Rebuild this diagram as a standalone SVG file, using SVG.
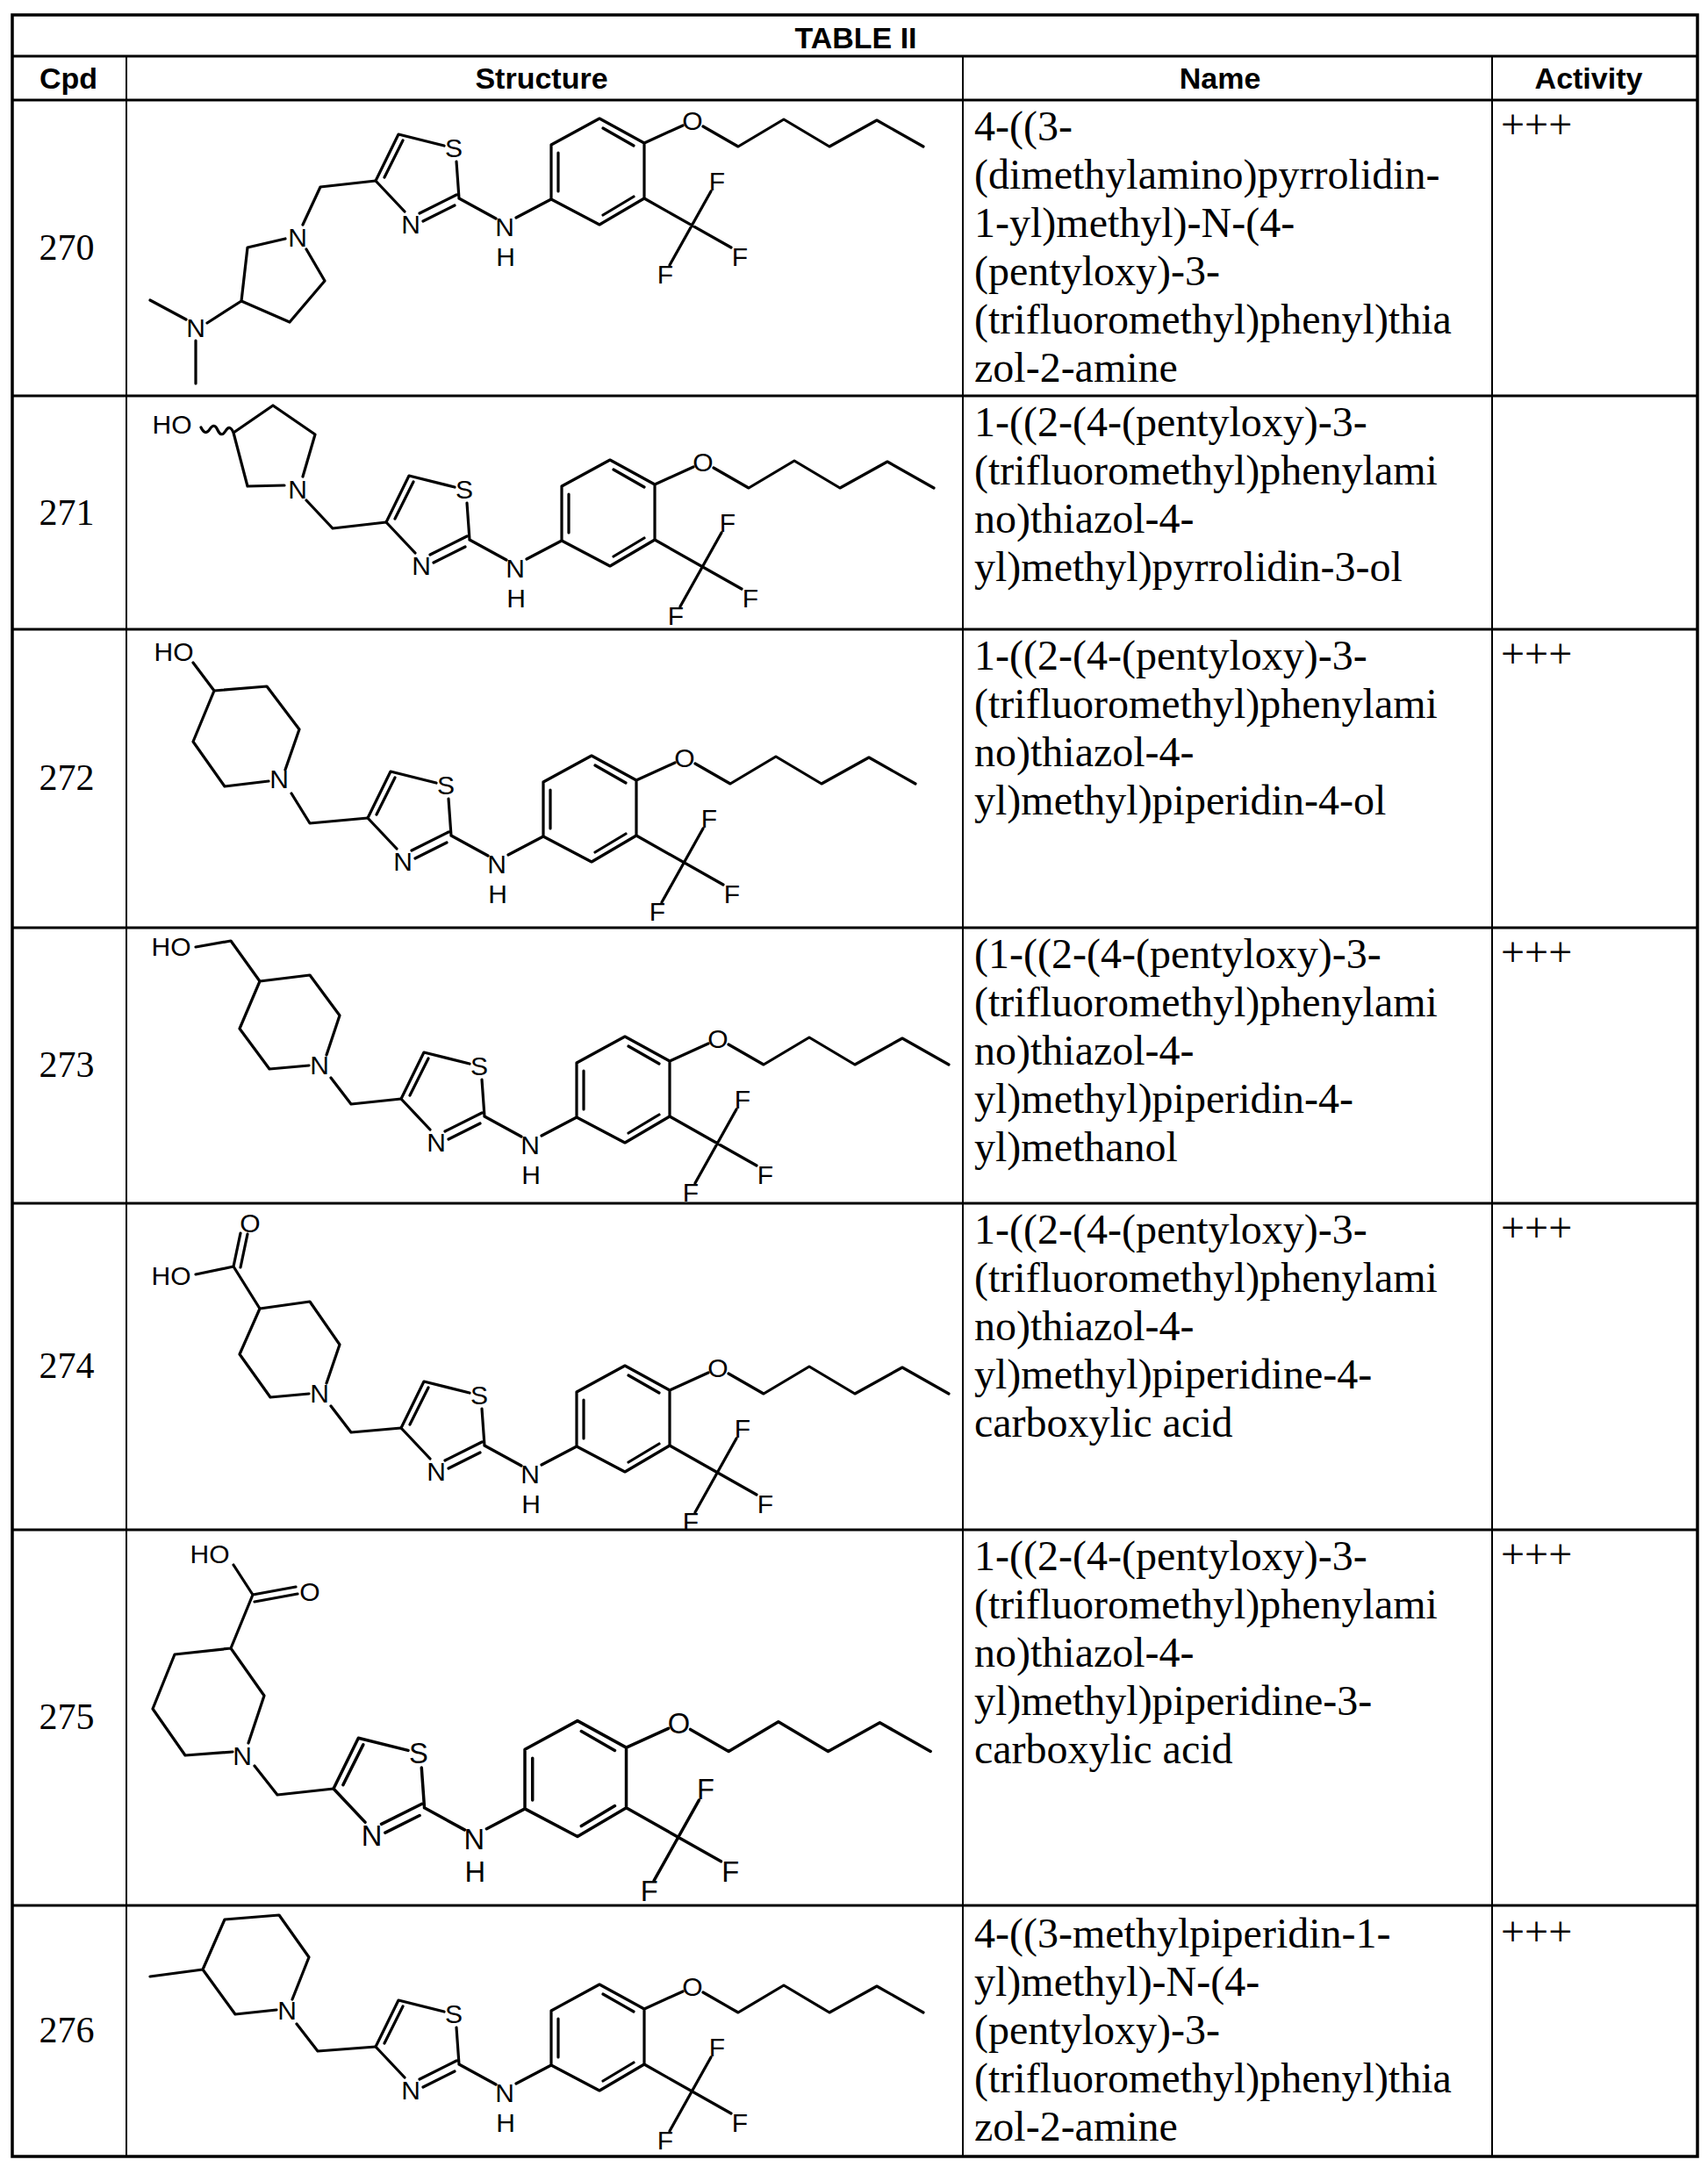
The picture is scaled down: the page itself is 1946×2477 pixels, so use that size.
<svg xmlns="http://www.w3.org/2000/svg" width="1946" height="2477" viewBox="0 0 1946 2477">
<style>
.b{stroke:#000;stroke-width:3.2;fill:none;stroke-linecap:round;stroke-linejoin:round}
.g{stroke:#000;fill:none}
.a{font-family:"Liberation Sans",Arial,sans-serif;font-size:30px;text-anchor:middle;fill:#000}
.h{font-family:"Liberation Sans",Arial,sans-serif;font-size:34px;font-weight:bold;text-anchor:middle;fill:#000}
.n{font-family:"Liberation Serif","Times New Roman",serif;font-size:48px;fill:#000}
.c{font-family:"Liberation Serif","Times New Roman",serif;font-size:42px;text-anchor:middle;fill:#000}
</style>
<defs>
<g id="core">
<path class="b" d="M0,0 L26,-53 L78,-40 M10,-4 L31,-46 M92,-22 L95,20 M50,37 L92,16 M54,46 L90,28 M0,0 L33,35 M95,20 L137,43 M160,42 L200,21 M200,21 L200,-41 L255,-71 L306,-43 L306,20 L255,50 Z M208,12 L208,-32 M259,-60 L294,-40 M294,18 L259,39 M306,-43 L350,-63 M373,-62 L413,-39 L465,-70 L517,-39 L571,-69 L624,-39 M306,20 L405,76 M382,12 L335,96"/>
<text class="a" x="89" y="-27">S</text>
<text class="a" x="40" y="60">N</text>
<text class="a" x="147" y="63">N</text>
<text class="a" x="148" y="97">H</text>
<text class="a" x="361" y="-58">O</text>
<text class="a" x="389" y="11">F</text>
<text class="a" x="415" y="97">F</text>
<text class="a" x="330" y="117">F</text>
</g>
</defs>
<rect width="1946" height="2477" fill="#fff"/>
<g id="table">
<rect class="g" x="14" y="17" width="1920" height="2440" stroke-width="3.5"/>
<path class="g" stroke-width="3" d="M14,64 H1934 M14,114 H1934 M14,451 H1934 M14,717 H1934 M14,1057 H1934 M14,1371 H1934 M14,1743 H1934 M14,2171 H1934"/>
<path class="g" stroke-width="2" d="M144,64 V2457 M1097,64 V2457 M1700,64 V2457"/>
<text class="h" x="975" y="55">TABLE II</text>
<text class="h" x="78" y="101">Cpd</text>
<text class="h" x="617" y="101">Structure</text>
<text class="h" x="1390" y="101">Name</text>
<text class="h" x="1810" y="101">Activity</text>
</g>
<g id="r270">
<text class="c" x="76" y="296">270</text>
<use href="#core" transform="translate(428,206)"/>
<path class="b" d="M428,206 L365,213 L345,256 M325,272 L282,282 L275,343 L330,367 L370,320 L349,284 M275,343 L236,368 M212,364 L171,342 M223,388 L223,437"/>
<text class="a" x="339" y="281">N</text>
<text class="a" x="223" y="384">N</text>
<text class="n" x="1110" y="160">4-((3-</text>
<text class="n" x="1110" y="215">(dimethylamino)pyrrolidin-</text>
<text class="n" x="1110" y="270">1-yl)methyl)-N-(4-</text>
<text class="n" x="1110" y="325">(pentyloxy)-3-</text>
<text class="n" x="1110" y="380">(trifluoromethyl)phenyl)thia</text>
<text class="n" x="1110" y="435">zol-2-amine</text>
<text class="n" x="1710" y="158">+++</text>
</g>
<g id="r271">
<text class="c" x="76" y="598">271</text>
<use href="#core" transform="translate(440,595)"/>
<path class="b" d="M440,595 L379,602 L349,570 M324,553 L282,554 L266,493 L311,462 L359,495 L345,543 M266,493 q-4,-10 -9,-2 q-5,8 -9,-1 q-4,-9 -9,-1 q-5,8 -10,-2"/>
<text class="a" x="339" y="568">N</text>
<text class="a" x="196" y="494">HO</text>
<text class="n" x="1110" y="497">1-((2-(4-(pentyloxy)-3-</text>
<text class="n" x="1110" y="552">(trifluoromethyl)phenylami</text>
<text class="n" x="1110" y="607">no)thiazol-4-</text>
<text class="n" x="1110" y="662">yl)methyl)pyrrolidin-3-ol</text>
</g>
<g id="r272">
<text class="c" x="76" y="900">272</text>
<use href="#core" transform="translate(419,932)"/>
<path class="b" d="M419,932 L353,938 L332,904 M306,890 L256,896 L220,845 L244,787 L304,782 L341,831 L325,877 M244,787 L220,755"/>
<text class="a" x="318" y="898">N</text>
<text class="a" x="198" y="753">HO</text>
<text class="n" x="1110" y="763">1-((2-(4-(pentyloxy)-3-</text>
<text class="n" x="1110" y="818">(trifluoromethyl)phenylami</text>
<text class="n" x="1110" y="873">no)thiazol-4-</text>
<text class="n" x="1110" y="928">yl)methyl)piperidin-4-ol</text>
<text class="n" x="1710" y="761">+++</text>
</g>
<g id="r273">
<text class="c" x="76" y="1227">273</text>
<use href="#core" transform="translate(457,1252)"/>
<path class="b" d="M457,1252 L400,1258 L377,1228 M352,1214 L307,1218 L273,1172 L296,1118 L353,1111 L387,1157 L372,1202 M296,1118 L263,1072 L223,1079"/>
<text class="a" x="364" y="1224">N</text>
<text class="a" x="195" y="1089">HO</text>
<text class="n" x="1110" y="1103">(1-((2-(4-(pentyloxy)-3-</text>
<text class="n" x="1110" y="1158">(trifluoromethyl)phenylami</text>
<text class="n" x="1110" y="1213">no)thiazol-4-</text>
<text class="n" x="1110" y="1268">yl)methyl)piperidin-4-</text>
<text class="n" x="1110" y="1323">yl)methanol</text>
<text class="n" x="1710" y="1101">+++</text>
</g>
<g id="r274">
<text class="c" x="76" y="1570">274</text>
<use href="#core" transform="translate(457,1627)"/>
<path class="b" d="M457,1627 L400,1632 L377,1602 M352,1588 L308,1592 L273,1543 L296,1491 L353,1483 L387,1532 L372,1576 M296,1491 L266,1443 L223,1452 M266,1443 L274,1405 M274,1444 L282,1406"/>
<text class="a" x="364" y="1598">N</text>
<text class="a" x="195" y="1464">HO</text>
<text class="a" x="285" y="1404">O</text>
<text class="n" x="1110" y="1417">1-((2-(4-(pentyloxy)-3-</text>
<text class="n" x="1110" y="1472">(trifluoromethyl)phenylami</text>
<text class="n" x="1110" y="1527">no)thiazol-4-</text>
<text class="n" x="1110" y="1582">yl)methyl)piperidine-4-</text>
<text class="n" x="1110" y="1637">carboxylic acid</text>
<text class="n" x="1710" y="1415">+++</text>
</g>
<g id="r275">
<text class="c" x="76" y="1970">275</text>
<use href="#core" transform="translate(380,2038) scale(1.09)"/>
<path class="b" d="M380,2038 L316,2045 L290,2012 M265,1996 L211,2000 L174,1947 L199,1885 L263,1878 L301,1932 L283,1986 M263,1878 L288,1817 L266,1783 M288,1817 L337,1808 M290,1825 L339,1816"/>
<text class="a" x="276" y="2011">N</text>
<text class="a" x="239" y="1781">HO</text>
<text class="a" x="353" y="1824">O</text>
<text class="n" x="1110" y="1789">1-((2-(4-(pentyloxy)-3-</text>
<text class="n" x="1110" y="1844">(trifluoromethyl)phenylami</text>
<text class="n" x="1110" y="1899">no)thiazol-4-</text>
<text class="n" x="1110" y="1954">yl)methyl)piperidine-3-</text>
<text class="n" x="1110" y="2009">carboxylic acid</text>
<text class="n" x="1710" y="1787">+++</text>
</g>
<g id="r276">
<text class="c" x="76" y="2327">276</text>
<use href="#core" transform="translate(428,2332)"/>
<path class="b" d="M428,2332 L362,2337 L338,2306 M315,2290 L268,2295 L231,2244 L256,2187 L318,2182 L352,2230 L333,2278 M231,2244 L171,2252"/>
<text class="a" x="327" y="2301">N</text>
<text class="n" x="1110" y="2219">4-((3-methylpiperidin-1-</text>
<text class="n" x="1110" y="2274">yl)methyl)-N-(4-</text>
<text class="n" x="1110" y="2329">(pentyloxy)-3-</text>
<text class="n" x="1110" y="2384">(trifluoromethyl)phenyl)thia</text>
<text class="n" x="1110" y="2439">zol-2-amine</text>
<text class="n" x="1710" y="2217">+++</text>
</g>
</svg>
